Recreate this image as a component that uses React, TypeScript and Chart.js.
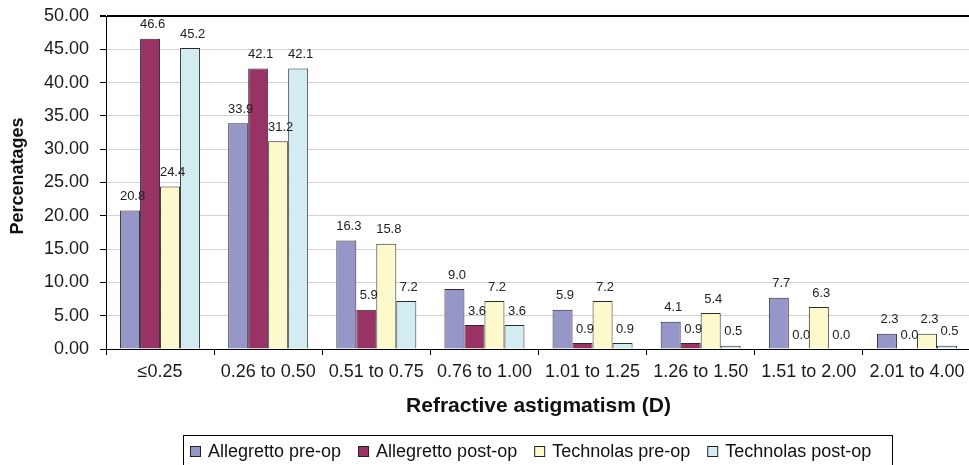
import React, { useEffect, useRef } from 'react';
import { Chart, registerables } from 'chart.js';

Chart.register(...registerables);

const categories = ['≤0.25', '0.26 to 0.50', '0.51 to 0.75', '0.76 to 1.00', '1.01 to 1.25', '1.26 to 1.50', '1.51 to 2.00', '2.01 to 4.00'];
const allegrettoPre = [20.8, 33.9, 16.3, 9.0, 5.9, 4.1, 7.7, 2.3];
const allegrettoPost = [46.6, 42.1, 5.9, 3.6, 0.9, 0.9, 0.0, 0.0];
const technolasPre = [24.4, 31.2, 15.8, 7.2, 7.2, 5.4, 6.3, 2.3];
const technolasPost = [45.2, 42.1, 7.2, 3.6, 0.9, 0.5, 0.0, 0.5];
const seriesNames = ['Allegretto pre-op', 'Allegretto post-op', 'Technolas pre-op', 'Technolas post-op'];
const seriesColors = ['#9696C8', '#993366', '#FCFACC', '#D2ECF2'];
const yTitle = 'Percenatages';
const xTitle = 'Refractive astigmatism (D)';

const FONT = "Arial, 'Liberation Sans', sans-serif";

export default function App() {
  const ref = useRef<HTMLCanvasElement>(null);

  useEffect(() => {
    const canvas = ref.current!;

    const valueLabelsPlugin = {
      id: 'valueLabels',
      afterDatasetsDraw(chart: any) {
        const ctx = chart.ctx;
        ctx.save();
        ctx.font = `13px ${FONT}`;
        ctx.fillStyle = '#222';
        ctx.textAlign = 'center';
        ctx.textBaseline = 'middle';
        chart.data.datasets.forEach((ds: any, i: number) => {
          const meta = chart.getDatasetMeta(i);
          if (meta.hidden) return;
          meta.data.forEach((el: any, j: number) => {
            const v = ds.data[j] as number;
            ctx.fillText(v.toFixed(1), el.x + 2.5, el.y - 14);
          });
        });
        ctx.restore();
      },
    };

    const boxLegendPlugin = {
      id: 'boxLegend',
      afterDraw(chart: any) {
        const ctx = chart.ctx;
        ctx.save();
        ctx.font = `bold 18px ${FONT}`;
        ctx.fillStyle = '#111';
        ctx.textAlign = 'center';
        ctx.textBaseline = 'middle';
        ctx.translate(18, 176);
        ctx.rotate(-Math.PI / 2);
        ctx.fillText(yTitle, 0, 0);
        ctx.restore();

        ctx.save();
        ctx.strokeStyle = '#000';
        ctx.lineWidth = 1;
        ctx.strokeRect(183.5, 435.5, 709, 40);
        ctx.font = `18px ${FONT}`;
        ctx.textBaseline = 'middle';
        ctx.textAlign = 'left';
        let x = 190;
        seriesNames.forEach((name, i) => {
          ctx.fillStyle = seriesColors[i];
          ctx.fillRect(x + 0.5, 446.5, 10, 10);
          ctx.strokeStyle = '#222';
          ctx.strokeRect(x + 0.5, 446.5, 10, 10);
          ctx.fillStyle = '#111';
          ctx.fillText(name, x + 18, 452);
          x = x + 18 + ctx.measureText(name).width + 17;
        });
        ctx.restore();
      },
    };

    const datasets = [allegrettoPre, allegrettoPost, technolasPre, technolasPost].map((d, i) => ({
      label: seriesNames[i],
      data: d,
      backgroundColor: seriesColors[i],
      borderColor: '#2a2a2a',
      borderWidth: 1,
      categoryPercentage: 0.74,
      barPercentage: 1,
    }));

    const chart = new Chart(canvas, {
      type: 'bar',
      data: { labels: categories, datasets },
      options: {
        responsive: false,
        animation: false,
        devicePixelRatio: 1,
        layout: { padding: { left: 0, right: 4, top: 16, bottom: 44 } },
        plugins: { legend: { display: false }, tooltip: { enabled: false } },
        scales: {
          x: {
            grid: { display: true, drawOnChartArea: false, drawTicks: true, tickLength: 6, tickColor: '#000', offset: true },
            border: { color: '#000', width: 1 },
            ticks: { autoSkip: false, maxRotation: 0, minRotation: 0, padding: 6, color: '#1a1a1a', font: { family: FONT, size: 18 } },
            title: { display: true, text: xTitle, color: '#111', font: { family: FONT, size: 21, weight: 'bold' }, padding: { top: 0, bottom: 2 } },
            afterFit: (s: any) => { s.height = 72; s.paddingLeft = 0; s.paddingRight = 0; },
          },
          y: {
            min: 0,
            max: 50,
            ticks: { stepSize: 5, callback: (v: any) => Number(v).toFixed(2), padding: 11, color: '#1a1a1a', font: { family: FONT, size: 18 } },
            grid: {
              color: (c: any) => (c.tick && c.tick.value === 50 ? '#000' : '#d2d2d2'),
              lineWidth: (c: any) => (c.tick && c.tick.value === 50 ? 2 : 1),
              tickColor: '#000',
              tickLength: 6,
            },
            border: { color: '#000', width: 1 },
            title: { display: false },
            afterFit: (s: any) => { s.width = 106; s.paddingTop = 0; s.paddingBottom = 0; },
          },
        },
      } as any,
      plugins: [valueLabelsPlugin, boxLegendPlugin],
    });

    return () => chart.destroy();
  }, []);

  return (
    <div style={{ position: 'fixed', left: 0, top: 0, width: 969, height: 465, overflow: 'hidden', background: '#fff' }}>
      <canvas ref={ref} width={975} height={465} style={{ display: 'block', width: 975, height: 465 }} />
    </div>
  );
}
